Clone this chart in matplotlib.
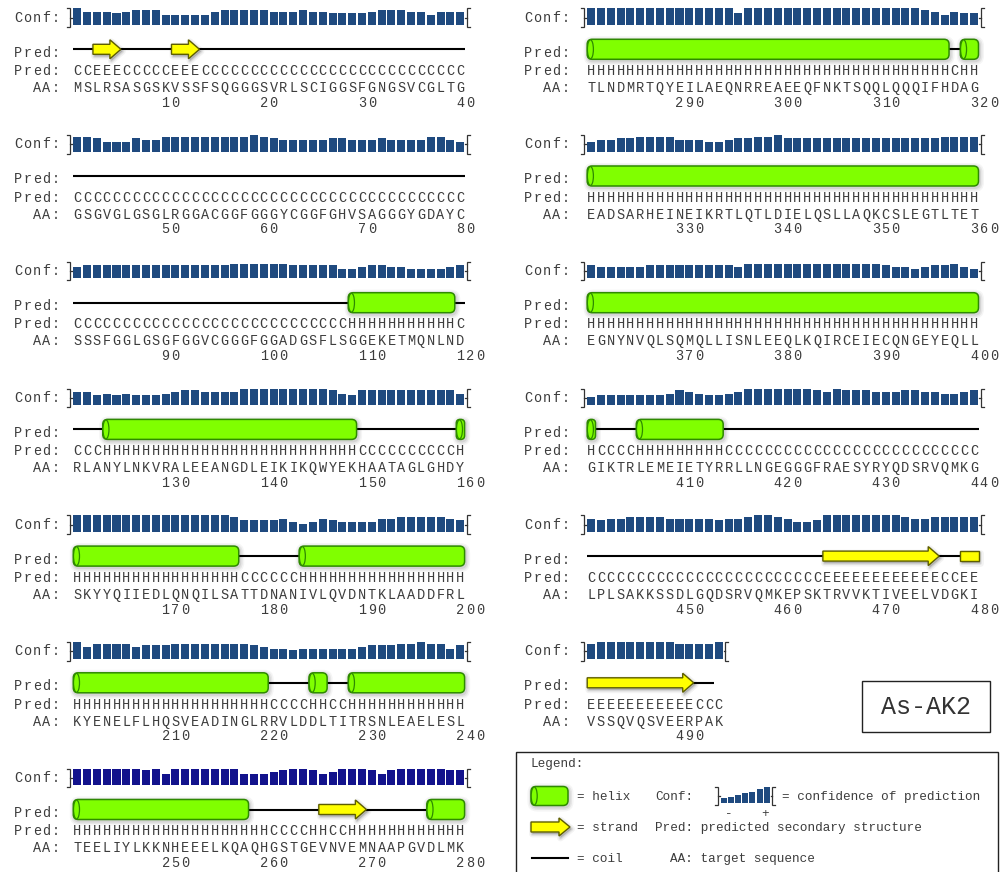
import matplotlib
matplotlib.use("Agg")
import matplotlib.pyplot as plt
from matplotlib.patches import FancyBboxPatch, Ellipse, Polygon, Rectangle

# ---------------- data ----------------
aa_blocks = [
    "MSLRSASGSKVSSFSQGGGSVRLSCIGGSFGNGSVCGLTG",
    "GSGVGLGSGLRGGACGGFGGGYCGGFGHVSAGGGYGDAYC",
    "SSSFGGLGSGFGGVCGGGFGGADGSFLSGGEKETMQNLND",
    "RLANYLNKVRALEEANGDLEIKIKQWYEKHAATAGLGHDY",
    "SKYYQIIEDLQNQILSATTDNANIVLQVDNTKLAADDFRL",
    "KYENELFLHQSVEADINGLRRVLDDLTITRSNLEAELESL",
    "TEELIYLKKNHEEELKQAQHGSTGEVNVEMNAAPGVDLMK",
    "TLNDMRTQYEILAEQNRREAEEQFNKTSQQLQQQIFHDAG",
    "EADSARHEINEIKRTLQTLDIELQSLLAQKCSLEGTLTET",
    "EGNYNVQLSQMQLLISNLEEQLKQIRCEIECQNGEYEQLL",
    "GIKTRLEMEIETYRRLLNGEGGGFRAESYRYQDSRVQMKG",
    "LPLSAKKSSDLGQDSRVQMKEPSKTRVVKTIVEELVDGKI",
    "VSSQVQSVEERPAK",
]
pred_blocks = [
    "CCEEECCCCCEEECCCCCCCCCCCCCCCCCCCCCCCCCCC",
    "CCCCCCCCCCCCCCCCCCCCCCCCCCCCCCCCCCCCCCCC",
    "CCCCCCCCCCCCCCCCCCCCCCCCCCCCHHHHHHHHHHHC",
    "CCCHHHHHHHHHHHHHHHHHHHHHHHHHHCCCCCCCCCCH",
    "HHHHHHHHHHHHHHHHHCCCCCCHHHHHHHHHHHHHHHHH",
    "HHHHHHHHHHHHHHHHHHHHCCCCHHCCHHHHHHHHHHHH",
    "HHHHHHHHHHHHHHHHHHHHCCCCHHCCHHHHHHHHHHHH",
    "HHHHHHHHHHHHHHHHHHHHHHHHHHHHHHHHHHHHHCHH",
    "HHHHHHHHHHHHHHHHHHHHHHHHHHHHHHHHHHHHHHHH",
    "HHHHHHHHHHHHHHHHHHHHHHHHHHHHHHHHHHHHHHHH",
    "HCCCCHHHHHHHHHCCCCCCCCCCCCCCCCCCCCCCCCCC",
    "CCCCCCCCCCCCCCCCCCCCCCCCEEEEEEEEEEEECCEE",
    "EEEEEEEEEEECCC",
]
# cartoon of block 241-280 as drawn in the reference
pred_cartoon_241 = "HHHHHHHHHHHHHHHHHHCCCCCCCEEEEECCCCCCHHHH"

conf_blocks = [
    [9,7,7,7,6,7,8,8,8,5,5,5,5,5,7,8,8,8,8,8,7,7,7,8,7,7,6,6,6,6,7,8,8,8,7,7,5,7,7,7],
    [8,8,7,5,5,5,7,6,6,8,8,8,8,8,8,8,8,8,9,8,7,6,6,6,6,6,7,7,6,6,6,7,6,6,6,6,8,8,6,5],
    [6,7,7,7,7,7,7,7,7,7,7,7,7,7,7,7,8,8,8,8,8,8,7,7,7,7,7,5,5,6,7,7,6,6,5,5,5,5,6,7],
    [7,7,5,6,5,6,5,5,5,6,7,8,8,7,7,7,7,9,9,9,9,9,9,9,9,9,8,6,5,8,8,8,8,8,8,8,8,8,8,6],
    [9,9,9,9,9,9,9,9,9,9,9,9,9,9,9,9,8,6,6,6,6,7,5,4,5,7,6,5,5,5,5,7,7,8,8,8,8,8,7,6],
    [9,6,8,8,8,8,6,7,7,7,8,8,8,8,8,8,8,8,7,6,5,5,4,5,5,5,5,5,5,6,7,7,7,8,8,9,8,8,5,7],
    [9,9,9,9,9,9,9,8,9,6,9,9,9,9,9,9,9,6,6,6,7,8,9,9,8,6,7,9,9,9,8,6,8,9,9,9,9,9,8,8],
    [9,9,9,9,9,9,9,9,9,9,9,9,9,9,9,6,9,9,9,9,9,9,9,9,9,9,9,9,9,9,9,9,9,9,8,7,5,7,6,6],
    [5,6,6,7,7,8,8,8,8,6,6,6,5,5,6,7,7,8,8,9,7,7,7,7,7,7,7,7,7,7,7,7,7,7,7,7,8,8,8,8],
    [7,6,6,6,6,6,7,7,7,7,7,7,7,7,7,6,8,8,8,8,8,8,8,8,8,8,8,8,8,8,7,6,6,5,6,7,7,8,6,5],
    [4,5,5,5,5,5,5,5,6,8,7,6,5,5,6,7,9,9,9,9,9,9,9,8,7,9,8,8,8,7,7,7,8,8,7,7,6,6,7,8],
    [7,6,7,7,8,8,8,8,7,7,7,7,7,6,7,7,8,9,9,8,7,5,5,6,9,9,9,9,9,9,9,9,8,7,7,8,8,8,8,8],
    [8,9,9,9,9,9,9,9,9,8,8,8,8,9],
]
block_length = 40
target_name = "As-AK2"

# ---------------- style ----------------
W, H = 1000, 872
MONO = "Liberation Mono"
TXT = "#3c3c3c"
BAR = "#1f4a7f"
BAR_DARK = "#12128c"
HELIX_FACE, HELIX_EDGE = "#80ff00", "#2e8a00"
STRAND_FACE, STRAND_EDGE = "#ffff00", "#5e5e00"
CW = 9.82
COL_X0 = [72.3, 586.2]
COL_LABEL_R = [60.0, 570.0]
ROW0, ROW_PITCH = 25.0, 126.7

fig = plt.figure(figsize=(W / 100, H / 100), dpi=100)
ax = fig.add_axes([0, 0, 1, 1])
ax.set_xlim(0, W)
ax.set_ylim(H, 0)
ax.axis("off")


def mono(x_left, y_base, s, pitch, size_px, color=TXT, z=5):
    for k, ch in enumerate(s):
        if ch == " ":
            continue
        ax.text(x_left + (k + 0.5) * pitch, y_base, ch, ha="center", va="baseline",
                fontsize=size_px * 0.72, family=MONO, color=color, zorder=z)


def plain(x, y_base, s, size_px, ha="left", color=TXT):
    ax.text(x, y_base, s, ha=ha, va="baseline", fontsize=size_px * 0.72,
            family=MONO, color=color, zorder=5)


def glow_box(x, y, w, h, r):
    for k, a in ((4.5, 0.06), (3.0, 0.09), (1.5, 0.12)):
        ax.add_patch(FancyBboxPatch((x - k + 1, y - k + 1.5), w + 2 * k, h + 2 * k,
                                    boxstyle=f"round,pad=0,rounding_size={r + k}",
                                    fc="#555555", ec="none", alpha=a, zorder=2))


def helix(xs, xe, yc, h=20):
    w = xe - xs
    r = min(5.0, w / 2 - 0.3)
    glow_box(xs, yc - h / 2, w, h, r)
    ax.add_patch(FancyBboxPatch((xs, yc - h / 2), w, h,
                                boxstyle=f"round,pad=0,rounding_size={r}",
                                fc=HELIX_FACE, ec=HELIX_EDGE, lw=1.1, zorder=4))
    ax.add_patch(Ellipse((xs + min(3.2, w / 2 - 0.5), yc), min(6.0, w - 1), h - 1,
                         fc=HELIX_FACE, ec=HELIX_EDGE, lw=0.9, zorder=4.5))


def strand(xs, xe, yc, head=True, bh=10, hh=19, hl=11):
    if head and xe - xs > hl + 2:
        xb = xe - hl
        pts = [(xs, yc - bh / 2), (xb, yc - bh / 2), (xb, yc - hh / 2), (xe, yc),
               (xb, yc + hh / 2), (xb, yc + bh / 2), (xs, yc + bh / 2)]
    else:
        pts = [(xs, yc - bh / 2), (xe, yc - bh / 2), (xe, yc + bh / 2), (xs, yc + bh / 2)]
    for k, a in ((3.5, 0.07), (2.0, 0.1), (1.0, 0.12)):
        sh = [(px + 1.5, py + 2.0) for px, py in pts]
        ax.add_patch(Polygon(sh, closed=True, fc="#555555", ec="#555555",
                             lw=k * 1.4, alpha=a, joinstyle="round", zorder=2))
    ax.add_patch(Polygon(pts, closed=True, fc=STRAND_FACE, ec=STRAND_EDGE,
                         lw=1.0, joinstyle="miter", zorder=4))


def runs(s):
    out, i = [], 0
    while i < len(s):
        j = i
        while j < len(s) and s[j] == s[i]:
            j += 1
        out.append((s[i], i, j))
        i = j
    return out


def bracket(x, ytop, ybot, side):
    d = 3 if side == "left" else -3
    ax.plot([x - d, x, x, x - d], [ytop, ytop, ybot, ybot], color="#333333", lw=0.9,
            solid_joinstyle="miter", zorder=5)
    ax.plot([x, x + (1.5 if side == "left" else -1.5)], [(ytop + ybot) / 2] * 2,
            color="#333333", lw=0.9, zorder=5)


n_left = 7
total = sum(len(a) for a in aa_blocks)
for b, (aa, pred, conf) in enumerate(zip(aa_blocks, pred_blocks, conf_blocks)):
    col = 0 if b < n_left else 1
    row = b if b < n_left else b - n_left
    x0 = COL_X0[col]
    lr = COL_LABEL_R[col]
    bb = ROW0 + row * ROW_PITCH
    n = len(aa)
    start = b * block_length + 1
    cartoon = pred_cartoon_241 if start == 241 else pred

    # labels
    lab_pitch = 9.3
    for lab, yb in (("Conf:", bb - 3.3), ("Pred:", bb + 31.7), ("Pred:", bb + 50.0), ("AA:", bb + 67.0)):
        mono(lr - len(lab) * lab_pitch, yb, lab, lab_pitch, 13.5)

    # confidence bars
    bar_col = BAR_DARK if start == 241 else BAR
    for k, c in enumerate(conf):
        h = (c + 1) / 10 * 16.5
        ax.add_patch(Rectangle((x0 + k * CW + 0.9, bb - h), CW - 1.8, h,
                               fc=bar_col, ec="none", zorder=3))
    bracket(x0 - 2.0, bb - 16.5, bb + 2, "left")
    bracket(x0 + n * CW + 1.5, bb - 16.5, bb + 2, "right")

    # cartoon
    yc = bb + 24.3
    end_x = x0 + n * CW - (10 if start + n - 1 == total else 0)
    ax.plot([x0 + 1, end_x], [yc, yc], color="black", lw=1.5, zorder=3,
            solid_capstyle="butt")
    for ss, i, j in runs(cartoon):
        xs, xe = x0 + i * CW + 1, x0 + j * CW - 0.5
        if ss == "H":
            helix(xs, xe, yc)
        elif ss == "E":
            ends_here = (j < n) or (start + n - 1 == total)
            strand(xs, xe, yc, head=ends_here)

    # text rows
    mono(x0, bb + 50.0, pred, CW, 13.5)
    mono(x0, bb + 67.0, aa, CW, 13.5)
    for k in range(n):
        num = start + k
        if num % 10 == 0:
            mono(x0 + k * CW, bb + 81.7, str(num), CW, 13.5)

# ---------------- name box ----------------
ax.add_patch(Rectangle((862, 681), 128, 51, fc="white", ec="#222222", lw=1.0, zorder=5))
ax.text(926, 707, target_name, ha="center", va="center", fontsize=18,
        family=MONO, color="#333333", zorder=6)

# ---------------- legend ----------------
ax.add_patch(Rectangle((516, 752), 482, 130, fc="white", ec="#222222", lw=1.0, zorder=1))
LS = 12.6
plain(530, 767, "Legend:", LS)
helix(531, 568, 796, h=19)
plain(577, 800, "= helix", LS)
plain(655, 800, "Conf:", LS)
leg_conf = [2, 3, 4, 5, 6, 8, 9]
for k, c in enumerate(leg_conf):
    h = (c + 1) / 10 * 16
    ax.add_patch(Rectangle((720 + k * 7.2 + 0.6, 803 - h), 6.0, h, fc=BAR, ec="none", zorder=3))
bracket(718, 787, 805, "left")
bracket(720 + len(leg_conf) * 7.2 + 2, 787, 805, "right")
plain(729, 817, "-", LS, ha="center")
plain(765, 817, "+", LS, ha="center")
plain(782, 800, "= confidence of prediction", LS)
strand(531, 570, 827, head=True, bh=10, hh=18, hl=11)
plain(577, 831, "= strand", LS)
plain(655, 831, "Pred: predicted secondary structure", LS)
ax.plot([532, 568], [858, 858], color="black", lw=1.5, zorder=3)
plain(577, 862, "= coil", LS)
plain(670, 862, "AA: target sequence", LS)

fig.savefig("out.png", dpi=100, facecolor="white")
